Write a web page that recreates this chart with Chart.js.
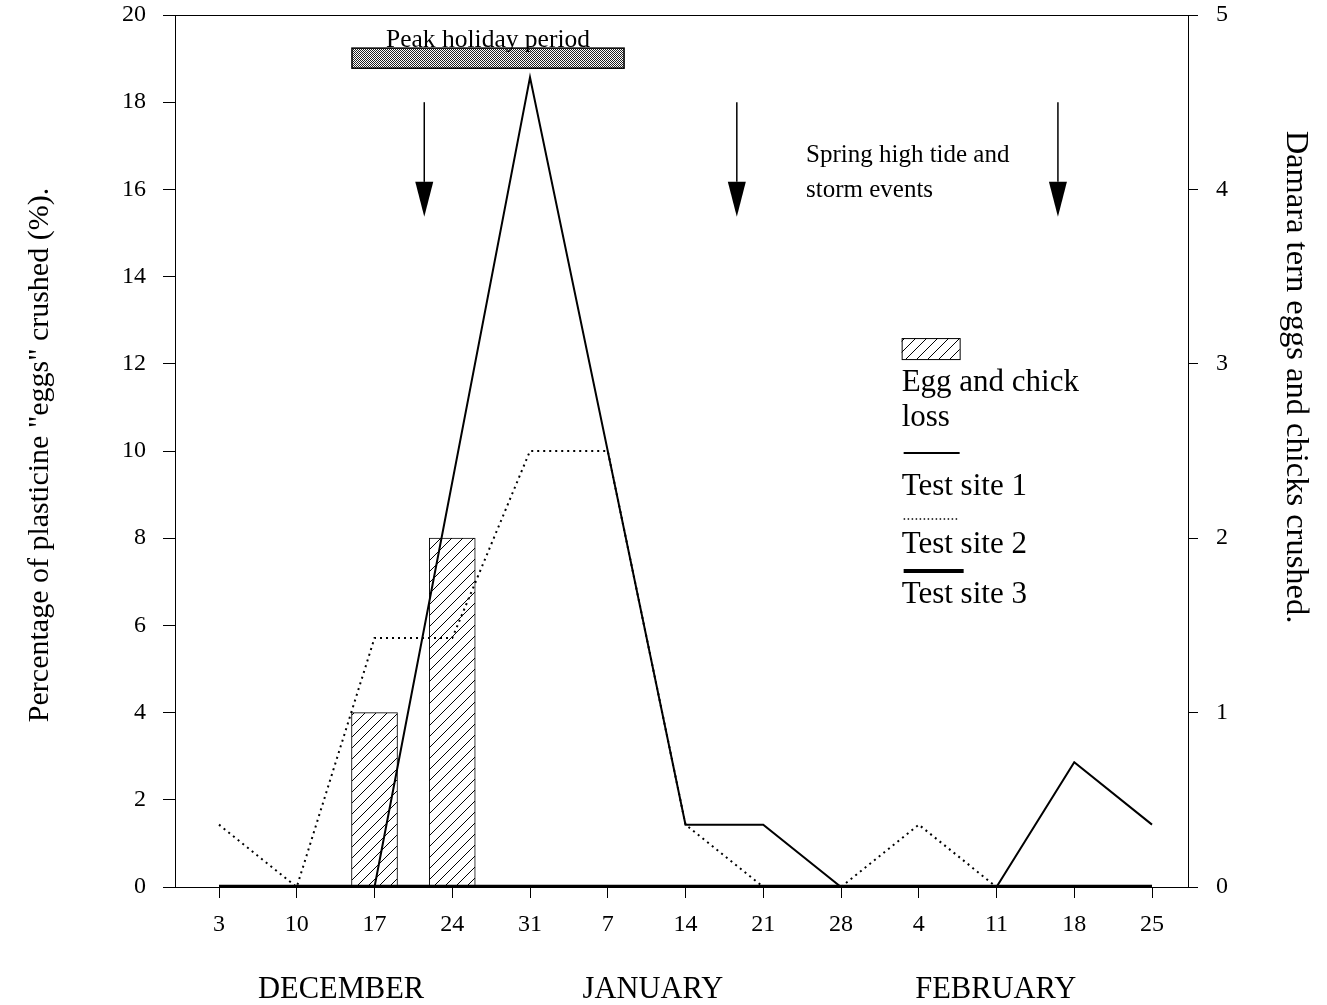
<!DOCTYPE html>
<html>
<head>
<meta charset="utf-8">
<script src="https://cdn.jsdelivr.net/npm/chart.js@4.4.1/dist/chart.umd.min.js"></script>
<style>
  html, body { margin: 0; padding: 0; background: #fff; }
  #wrap { width: 1327px; height: 1005px; }
</style>
</head>
<body>
<div id="wrap"><canvas id="c" width="1327" height="1005"></canvas></div>
<script>
// weekly survey dates (Dec → Feb)
const weeks = ["3", "10", "17", "24", "31", "7", "14", "21", "28", "4", "11", "18", "25"];

// right axis: Damara tern eggs and chicks crushed
const eggChickLoss = [null, null, 1, 2, null, null, null, null, null, null, null, null, null];

// left axis: % plasticine eggs crushed
const site1 = [null, null, 0, null, 18.57, null, 1.43, 1.43, 0, 0, 0, 2.86, 1.43];
const site2 = [1.43, 0, 5.71, 5.71, 10, 10, 1.43, 0, 0, 1.43, 0, 0, 0];
const site3 = [0, 0, 0, 0, 0, 0, 0, 0, 0, 0, 0, 0, 0];

const leftTicks = [0, 2, 4, 6, 8, 10, 12, 14, 16, 18, 20];
const rightTicks = [0, 1, 2, 3, 4, 5];

// month labels, centred on a (fractional) week index
const monthNames = ["DECEMBER", "JANUARY", "FEBRUARY"];
const monthCenters = [1.57, 5.58, 9.99];

// annotations (week index / left axis value)
const holidaySpan = [1.71, 5.21];
const holidayLevel = [19.24, 18.78];
const stormWeeks = [2.64, 6.66, 10.79];
const stormLevel = [18, 15.37];

const SERIF = '"Liberation Serif", "Times New Roman", serif';

const ctxMain = document.getElementById("c").getContext("2d");

/** diagonal hatch (///) for the bars */
function makeHatch(){
  const s = 11;
  const c = document.createElement("canvas");
  c.width = s; c.height = s;
  const g = c.getContext("2d");
  g.fillStyle = "#fff";
  g.fillRect(0, 0, s, s);
  g.strokeStyle = "#000";
  g.lineWidth = 1;
  g.beginPath();
  g.moveTo(0, s); g.lineTo(s, 0);
  g.moveTo(-s, s); g.lineTo(s, -s);
  g.moveTo(0, 2 * s); g.lineTo(2 * s, 0);
  g.stroke();
  return ctxMain.createPattern(c, "repeat");
}

/** fine checker for the holiday bar */
function makeChecker(){
  const c = document.createElement("canvas");
  c.width = 4; c.height = 4;
  const g = c.getContext("2d");
  g.fillStyle = "#fff";
  g.fillRect(0, 0, 4, 4);
  g.fillStyle = "#222";
  for (let i = 0; i < 4; i++){
    for (let j = 0; j < 4; j++){
      if ((i + j) % 2 === 0) g.fillRect(i, j, 1, 1);
    }
  }
  return ctxMain.createPattern(c, "repeat");
}

const hatch = makeHatch();
const checker = makeChecker();

const toXY = arr => arr.map((v, i) => ({ x: i, y: v }));

const notes = {
  id: "notes",
  afterDatasetsDraw(chart){
    const { ctx, chartArea: a, scales: { x, y } } = chart;
    ctx.save();
    ctx.fillStyle = "#000";
    ctx.strokeStyle = "#000";

    // frame
    ctx.lineWidth = 1;
    ctx.strokeRect(a.left + 0.5, a.top + 0.5, a.right - a.left, a.bottom - a.top);

    // peak holiday bar
    const hx0 = x.getPixelForValue(holidaySpan[0]);
    const hx1 = x.getPixelForValue(holidaySpan[1]);
    const hy0 = y.getPixelForValue(holidayLevel[0]);
    const hy1 = y.getPixelForValue(holidayLevel[1]);
    ctx.fillStyle = checker;
    ctx.fillRect(hx0, hy0, hx1 - hx0, hy1 - hy0);
    ctx.lineWidth = 1.5;
    ctx.strokeRect(hx0, hy0, hx1 - hx0, hy1 - hy0);
    ctx.fillStyle = "#000";
    ctx.font = "25.5px " + SERIF;
    ctx.textAlign = "center";
    ctx.textBaseline = "alphabetic";
    ctx.fillText("Peak holiday period", (hx0 + hx1) / 2, hy0 - 1);

    // storm arrows
    stormWeeks.forEach(w => {
      const ax = x.getPixelForValue(w);
      const top = y.getPixelForValue(stormLevel[0]);
      const tip = y.getPixelForValue(stormLevel[1]);
      const head = 35;
      ctx.lineWidth = 1.5;
      ctx.beginPath();
      ctx.moveTo(ax, top);
      ctx.lineTo(ax, tip - head);
      ctx.stroke();
      ctx.beginPath();
      ctx.moveTo(ax - 9, tip - head);
      ctx.lineTo(ax + 9, tip - head);
      ctx.lineTo(ax, tip);
      ctx.closePath();
      ctx.fill();
    });

    ctx.textAlign = "left";
    ctx.font = "25px " + SERIF;
    const sx = x.getPixelForValue(7.55);
    ctx.fillText("Spring high tide and", sx, y.getPixelForValue(16.63));
    ctx.fillText("storm events", sx, y.getPixelForValue(15.83));

    // legend
    const lx = x.getPixelForValue(8.78);
    const ly = y.getPixelForValue(12.59);
    ctx.fillStyle = hatch;
    ctx.fillRect(lx, ly, 58, 21);
    ctx.lineWidth = 1;
    ctx.strokeRect(lx + 0.5, ly + 0.5, 58, 21);
    ctx.fillStyle = "#000";
    ctx.font = "31px " + SERIF;
    ctx.fillText("Egg and chick", lx, ly + 53);
    ctx.fillText("loss", lx, ly + 88);
    ctx.lineWidth = 2;
    ctx.beginPath(); ctx.moveTo(lx + 2, ly + 115); ctx.lineTo(lx + 58, ly + 115); ctx.stroke();
    ctx.fillText("Test site 1", lx, ly + 157);
    ctx.setLineDash([1.5, 2.5]);
    ctx.lineWidth = 1.5;
    ctx.beginPath(); ctx.moveTo(lx + 2, ly + 181); ctx.lineTo(lx + 58, ly + 181); ctx.stroke();
    ctx.setLineDash([]);
    ctx.fillText("Test site 2", lx, ly + 215);
    ctx.lineWidth = 4;
    ctx.beginPath(); ctx.moveTo(lx + 2, ly + 233); ctx.lineTo(lx + 62, ly + 233); ctx.stroke();
    ctx.fillText("Test site 3", lx, ly + 265);

    // months
    ctx.textAlign = "center";
    ctx.font = "30.5px " + SERIF;
    monthNames.forEach((m, i) => {
      ctx.fillText(m, x.getPixelForValue(monthCenters[i]), a.bottom + 111);
    });

    // axis titles
    ctx.textBaseline = "middle";
    ctx.save();
    ctx.translate(40, 455);
    ctx.rotate(-Math.PI / 2);
    ctx.font = "30px " + SERIF;
    ctx.fillText('Percentage of plasticine "eggs" crushed (%).', 0, 0);
    ctx.restore();
    ctx.save();
    ctx.translate(1296, 377);
    ctx.rotate(Math.PI / 2);
    ctx.font = "32.5px " + SERIF;
    ctx.fillText("Damara tern eggs and chicks crushed.", 0, 0);
    ctx.restore();

    ctx.restore();
  }
};

const tickFont = { family: SERIF, size: 24 };

// keep the plot box where the original has it (labels may overhang the top)
function fixWidth(w){
  return s => { s.width = w; s.paddingTop = 0; };
}

new Chart(ctxMain, {
  type: "bar",
  data: {
    datasets: [
      {
        type: "line",
        label: "Test site 3",
        data: toXY(site3),
        yAxisID: "y",
        borderColor: "#000",
        borderWidth: 4.5,
        pointRadius: 0,
        order: 1
      },
      {
        type: "line",
        label: "Test site 2",
        data: toXY(site2),
        yAxisID: "y",
        borderColor: "#000",
        borderWidth: 2,
        borderDash: [2, 4],
        pointRadius: 0,
        order: 2
      },
      {
        type: "line",
        label: "Test site 1",
        data: toXY(site1),
        yAxisID: "y",
        borderColor: "#000",
        borderWidth: 2,
        pointRadius: 0,
        spanGaps: true,
        order: 3
      },
      {
        type: "bar",
        label: "Egg and chick loss",
        data: toXY(eggChickLoss),
        yAxisID: "y2",
        backgroundColor: hatch,
        borderColor: "#000",
        borderWidth: 1,
        barThickness: 46,
        order: 10
      }
    ]
  },
  options: {
    responsive: false,
    animation: false,
    layout: { padding: { top: 15, left: 0, right: 0, bottom: 0 } },
    plugins: { legend: { display: false }, tooltip: { enabled: false } },
    scales: {
      x: {
        type: "linear",
        offset: false,
        min: -0.566,
        max: 12.463,
        afterBuildTicks: s => { s.ticks = weeks.map((_, i) => ({ value: i })); },
        afterFit: s => { s.height = 118; },
        ticks: {
          callback: v => weeks[v],
          font: tickFont, color: "#000", padding: 12,
          maxRotation: 0, autoSkip: false
        },
        grid: { offset: false, drawOnChartArea: false, drawTicks: true, tickLength: 11, color: "#000" },
        border: { color: "#000", width: 1 }
      },
      y: {
        type: "linear",
        position: "left",
        min: 0, max: 20,
        afterBuildTicks: s => { s.ticks = leftTicks.map(v => ({ value: v })); },
        afterFit: fixWidth(175),
        ticks: { font: tickFont, color: "#000", padding: 17 },
        grid: { drawOnChartArea: false, tickLength: 12, color: "#000" },
        border: { color: "#000", width: 1 }
      },
      y2: {
        type: "linear",
        position: "right",
        min: 0, max: 5,
        afterBuildTicks: s => { s.ticks = rightTicks.map(v => ({ value: v })); },
        afterFit: fixWidth(139),
        ticks: { font: tickFont, color: "#000", padding: 18 },
        grid: { drawOnChartArea: false, tickLength: 10, color: "#000" },
        border: { color: "#000", width: 1 }
      }
    }
  },
  plugins: [notes]
});
</script>
</body>
</html>
